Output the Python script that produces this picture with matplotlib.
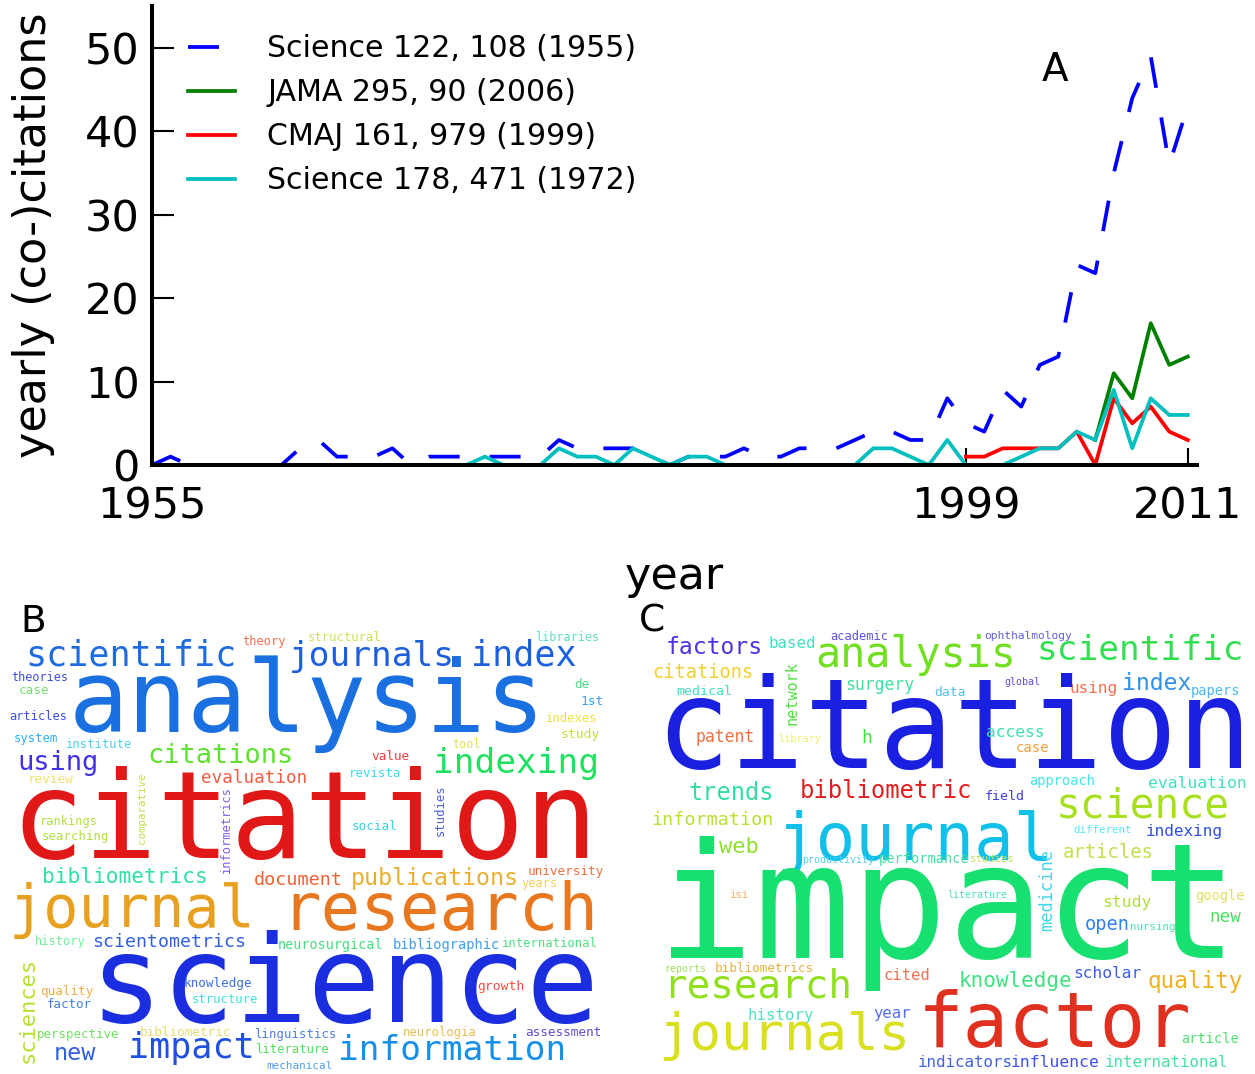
import matplotlib
matplotlib.use('Agg')
import matplotlib.pyplot as plt

plt.rcParams['lines.scale_dashes'] = False
plt.rcParams['font.family'] = ['DejaVu Sans']

# ---------------- data: yearly (co-)citations ----------------
years_s122 = list(range(1955, 2012))
s122 = [0, 1, 0, 0, 0, 0, 0, 0, 2, 3,
        1, 1, 1, 2, 0, 1, 1, 1, 1, 1,
        1, 1, 3, 2, 2, 2, 2, 1, 0, 1,
        1, 1, 2, 1, 1, 2, 2, 2, 3, 4,
        4, 3, 3, 8, 5, 4, 9, 7, 12, 13,
        24, 23, 35, 44, 49, 36, 43]
years_jama = list(range(2006, 2012))
jama = [3, 11, 8, 17, 12, 13]
years_cmaj = list(range(1999, 2012))
cmaj = [1, 1, 2, 2, 2, 2, 4, 0, 8, 5, 7, 4, 3]
years_s178 = list(range(1972, 2012))
s178 = [0, 1, 0, 0, 0, 2, 1, 1, 0, 2,
        1, 0, 1, 1, 0, 0, 0, 0, 0, 0,
        0, 0, 2, 2, 1, 0, 3, 0, 0, 0,
        1, 2, 2, 4, 3, 9, 2, 8, 6, 6]
labels = ['Science 122, 108 (1955)', 'JAMA 295, 90 (2006)',
          'CMAJ 161, 979 (1999)', 'Science 178, 471 (1972)']
xticks = [1955, 1999, 2011]
yticks = [0, 10, 20, 30, 40, 50]

# ---------------- data: word clouds ----------------
words_B = ['scientific', 'journals', 'index', 'theory', 'structural', 'libraries',
           'theories', 'case', 'articles', 'system', 'institute', 'analysis',
           'de', '1st', 'indexes', 'study', 'tool', 'value', 'revista', 'using',
           'citations', 'indexing', 'evaluation', 'review', 'comparative',
           'informetrics', 'studies', 'rankings', 'social', 'citation', 'searching',
           'bibliometrics', 'document', 'publications', 'university', 'years',
           'journal', 'research', 'history', 'scientometrics', 'neurosurgical',
           'bibliographic', 'international', 'science', 'sciences', 'quality',
           'factor', 'knowledge', 'structure', 'growth', 'perspective',
           'bibliometric', 'linguistics', 'neurologia', 'assessment', 'new',
           'impact', 'literature', 'mechanical', 'information']
words_C = ['factors', 'based', 'academic', 'ophthalmology', 'analysis', 'scientific',
           'citations', 'medical', 'network', 'surgery', 'data', 'global', 'using',
           'index', 'papers', 'citation', 'patent', 'library', 'h', 'access', 'case',
           'trends', 'bibliometric', 'approach', 'evaluation', 'field', 'science',
           'information', 'journal', 'different', 'indexing', 'web', 'articles',
           'productivity', 'performance', 'studies', 'medicine', 'impact', 'isi',
           'literature', 'study', 'google', 'new', 'open', 'nursing', 'reports',
           'bibliometrics', 'cited', 'knowledge', 'scholar', 'quality', 'research',
           'factor', 'history', 'year', 'journals', 'article', 'indicators',
           'influence', 'international']

# layout of the word clouds (pixel x centre, baseline y / centre y, size px, colour, rotation)
layout_B = [
    (131, 666, 35, '#1f6be0', 0), (371.5, 666, 34.5, '#1c5fe0', 0), (523.5, 666, 35, '#1c5fe0', 0),
    (264, 645, 12, '#f07050', 0), (344.5, 641, 12.3, '#d0e050', 0), (567.5, 641, 11.8, '#60e0c0', 0),
    (39.5, 681, 11.7, '#4050e0', 0), (34.5, 694, 12.6, '#70e070', 0), (38.5, 720, 12, '#4050e0', 0),
    (35.5, 742, 12.3, '#30b0f0', 0), (99.5, 748, 12.2, '#50d0f0', 0), (307, 732, 99, '#1a70e0', 0),
    (582, 688, 12.7, '#40e080', 0), (592, 705, 12.9, '#40a0f0', 0), (572, 722, 12.2, '#f0e040', 0),
    (580, 738, 13, '#c0e040', 0), (466.5, 748, 11.7, '#e0e060', 0), (390.5, 760, 12.7, '#f04040', 0),
    (375.5, 777, 12.4, '#40d8f0', 0), (57.5, 770, 27, '#4030e8', 0), (220, 763, 27, '#60e030', 0),
    (516, 773, 34.4, '#20e060', 0), (254, 783, 17.6, '#f06040', 0), (50.5, 783, 12.8, '#f0e070', 0),
    (142, 808, 10.7, '#c0e050', 90), (227, 830, 12, '#8060e0', 90), (440, 810, 12.2, '#5060e0', 90),
    (68.5, 825, 12, '#b0e040', 0), (374.5, 830, 12.8, '#40d0e0', 0), (304.5, 858, 122, '#e01818', 0),
    (76, 840, 12.4, '#b0e040', 0), (125, 883, 21.2, '#30e0a0', 0), (298.5, 885, 18.4, '#f06030', 0),
    (435, 885, 23.3, '#e8b030', 0), (565.5, 875, 12.7, '#f07040', 0), (539.5, 887, 12, '#f0d060', 0),
    (132.5, 927, 58.6, '#e8a020', 0), (440, 930, 65.7, '#e87820', 0), (60.5, 945, 12, '#70f0a0', 0),
    (169, 947, 18.3, '#3060e0', 0), (331, 949, 13.5, '#40e080', 0), (446.5, 949, 13.8, '#40a0f0', 0),
    (549.5, 947, 12.3, '#50e080', 0), (344, 1022, 121, '#1a2ee0', 0), (28, 1010, 22, '#b8e030', 90),
    (67, 995, 12.6, '#f0b040', 0), (69, 1008, 12.5, '#4080e0', 0), (217.5, 987, 12.6, '#3a70e0', 0),
    (224.5, 1003, 12.2, '#40e0e0', 0), (501, 990, 13, '#f05040', 0), (78.5, 1038, 12.4, '#70e060', 0),
    (185.5, 1036, 12.8, '#e8e070', 0), (295.5, 1038, 12.4, '#5080e0', 0), (439.5, 1036, 12.3, '#e8c050', 0),
    (563.5, 1036, 12.7, '#6050d0', 0), (75, 1060, 23.5, '#3060e0', 0), (191.5, 1058, 35, '#2050e0', 0),
    (291.5, 1053, 12.3, '#50e060', 0), (299.5, 1069, 11, '#50a0f0', 0), (452.5, 1060, 34.5, '#1890e8', 0),
]
layout_C = [
    (714, 654, 23, '#5030e0', 0), (792, 648, 15.8, '#40e0c0', 0), (859.5, 640, 12, '#6050e0', 0),
    (1028.5, 639, 11.3, '#6060e0', 0), (915.5, 667, 41.8, '#70e020', 0), (1140, 660, 34.4, '#30e050', 0),
    (702.5, 678, 18.6, '#f0d030', 0), (704.5, 695, 13.4, '#40e0c0', 0), (792, 693, 15.3, '#50e040', 90),
    (880, 690, 16.5, '#40e0a0', 0), (950, 696, 13, '#50c0f0', 0), (1022.5, 685, 10, '#6050e0', 0),
    (1093.5, 693, 16, '#f07050', 0), (1156.5, 690, 23, '#3090e8', 0), (1216, 695, 13.7, '#50b8f0', 0),
    (953.5, 768, 124, '#1a20e0', 0), (725, 742, 16.5, '#f07040', 0), (800, 742, 10.2, '#f0f070', 0),
    (867, 743, 18, '#40e040', 0), (1015.5, 737, 16.2, '#40e0b0', 0), (1032, 752, 13.9, '#f0a040', 0),
    (731.5, 800, 23.6, '#30e0a0', 0), (886, 798, 23.9, '#e02020', 0), (1062.5, 785, 13.8, '#40e8f0', 0),
    (1197.5, 788, 16.4, '#40e0c0', 0), (1004.5, 800, 13.4, '#4040e0', 0), (1143, 817, 41.3, '#a8e020', 0),
    (713, 825, 18.4, '#b8e030', 0), (914.5, 860, 65.9, '#10c0e8', 0), (1102.5, 833, 10.7, '#50e8f0', 0),
    (1184.5, 836, 16, '#3050e0', 0), (739, 853, 22, '#90e030', 0), (1108.5, 858, 18.9, '#c0e050', 0),
    (838.5, 863, 10, '#50d0f0', 0), (924.5, 863, 13.6, '#40e0a0', 0), (992.5, 862, 10.5, '#c0e060', 0),
    (1047, 890, 17, '#40d8e8', 90), (947.5, 958, 161, '#18e070', 0), (739, 898, 10.6, '#f0b060', 0),
    (977, 898, 10, '#50e0c0', 0), (1127, 907, 16.4, '#b0e040', 0), (1220, 900, 13.6, '#e0e060', 0),
    (1225, 922, 17.6, '#50e060', 0), (1107.5, 930, 18.6, '#3080f0', 0), (1153, 930, 10.7, '#50e0b0', 0),
    (685.5, 972, 10, '#a0e060', 0), (764.5, 972, 12.6, '#e8b040', 0), (906.5, 980, 15.5, '#f07050', 0),
    (1015.5, 987, 21, '#40e080', 0), (1107.5, 978, 16.3, '#4060e0', 0), (1195.5, 988, 22.6, '#f0b020', 0),
    (757.5, 998, 39.3, '#90e020', 0), (1055, 1047, 75.7, '#e03020', 0), (780.5, 1020, 15.8, '#50e0c0', 0),
    (892, 1018, 15.6, '#5070f0', 0), (784.5, 1050, 52.4, '#d8e020', 0), (1210, 1043, 13.6, '#50e070', 0),
    (965, 1067, 15.9, '#4060e0', 0), (1055.5, 1067, 16.4, '#4050f0', 0), (1166.5, 1067, 15.9, '#40e0a0', 0),
]

W, H = 1255, 1074
fig = plt.figure(figsize=(W / 100, H / 100), dpi=100)
fig.patch.set_facecolor('white')

# ---------------- panel A: line chart ----------------
ax = fig.add_axes([152 / W, 1 - 465 / H, 1045 / W, (465 - 6.3) / H])
lw = 2.7
ax.plot(years_s122, s122, color='#0000ff', lw=lw, dashes=(22.3, 21.6), label=labels[0])
ax.plot(years_jama, jama, color='#008000', lw=lw, label=labels[1])
ax.plot(years_cmaj, cmaj, color='#ff0000', lw=lw, label=labels[2])
ax.plot(years_s178, s178, color='#00bfbf', lw=lw, label=labels[3])

ax.set_xlim(1955, 2011.5)
ax.set_ylim(0, 55)
ax.set_xticks(xticks)
ax.set_yticks(yticks)
for side in ['top', 'right']:
    ax.spines[side].set_visible(False)
for side in ['left', 'bottom']:
    ax.spines[side].set_linewidth(2.9)
ax.tick_params(direction='in', width=1.5, labelsize=31, top=False, right=False)
ax.tick_params(axis='x', pad=15, length=12.5)
ax.tick_params(axis='y', pad=9, length=16)
ax.set_xlabel('year', fontsize=32)
ax.xaxis.set_label_coords(0.5, -0.196)
ax.set_ylabel('yearly (co-)citations', fontsize=32)
ax.yaxis.set_label_coords(-0.093, 0.5)
ax.legend(loc='upper left', bbox_to_anchor=(0.023, 0.965), frameon=False, fontsize=21.6,
          handlelength=1.57, handletextpad=1.07, labelspacing=0.5, borderaxespad=0,
          borderpad=0.4)

# ---------------- overlay for panel labels and word clouds ----------------
ov = fig.add_axes([0, 0, 1, 1])
ov.set_xlim(0, W)
ov.set_ylim(H, 0)
ov.axis('off')
ov.patch.set_alpha(0)

ov.text(1055, 81, 'A', fontsize=28, ha='center', va='baseline', color='black')
ov.text(33, 632, 'B', fontsize=27, ha='center', va='baseline', color='black')
ov.text(652, 632, 'C', fontsize=27, ha='center', va='baseline', color='black')

for words, layout in ((words_B, layout_B), (words_C, layout_C)):
    for w, (x, y, s, c, r) in zip(words, layout):
        if r == 0:
            ov.text(x, y, w, fontsize=s * 0.72, color=c, ha='center', va='baseline',
                    family='DejaVu Sans Mono')
        else:
            ov.text(x, y, w, fontsize=s * 0.72, color=c, ha='center', va='center',
                    rotation=r, family='DejaVu Sans Mono')

fig.savefig('out.png', dpi=100, facecolor='white')
